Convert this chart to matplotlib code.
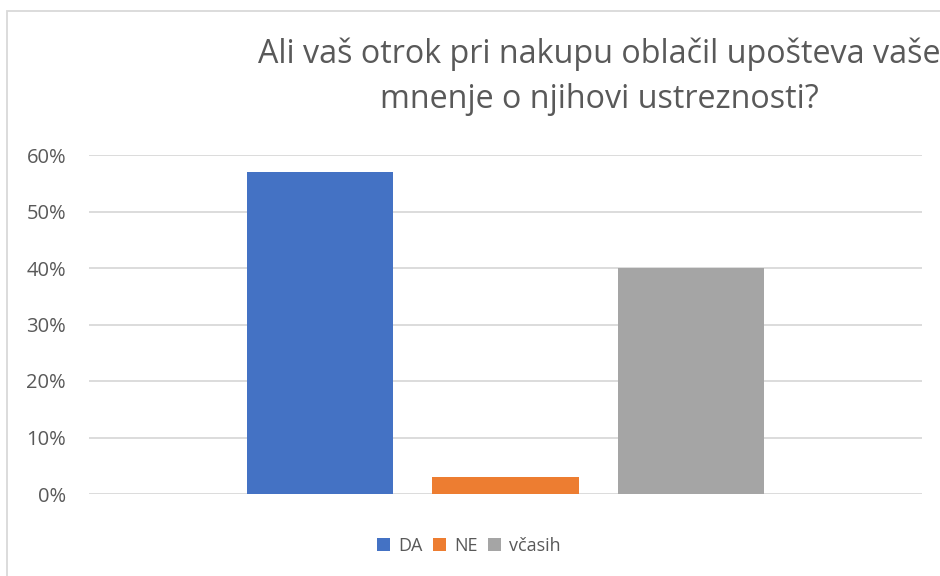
import matplotlib
matplotlib.use("Agg")
import matplotlib.pyplot as plt
from matplotlib.patches import Rectangle
from matplotlib.ticker import FuncFormatter

title_lines = ["Ali vaš otrok pri nakupu oblačil upošteva vaše",
               "mnenje o njihovi ustreznosti?"]
series = ["DA", "NE", "včasih"]
values = [0.57, 0.03, 0.40]
colors = ["#4472C4", "#ED7D31", "#A5A5A5"]
yticks = [0, 0.1, 0.2, 0.3, 0.4, 0.5, 0.6]

plt.rcParams['font.family'] = ['Open Sans', 'DejaVu Sans']
txt = "#595959"

fig = plt.figure(figsize=(9.4, 5.76), dpi=100)
fig.patches.append(Rectangle((7/940, -0.1), 2, 1.1 - 11/576, transform=fig.transFigure,
                             fill=False, edgecolor="#D9D9D9", linewidth=1.3))
ax = fig.add_axes([89/940, (576-494)/576, (922-89)/940, (494-155)/576])

positions = [-1, 0, 1]
for p, v, c, s in zip(positions, values, colors, series):
    ax.bar(p, v, width=146/185, color=c, label=s, zorder=3)

ax.set_xlim(-2.251, 2.251)
ax.set_ylim(0, 0.6)
ax.set_yticks(yticks)
ax.yaxis.set_major_formatter(FuncFormatter(lambda y, _: f"{round(y*100)}%"))
ax.grid(axis="y", color="#D9D9D9", linewidth=1.3, zorder=0)
ax.set_xticks([])
for sp in ax.spines.values():
    sp.set_visible(False)
ax.tick_params(axis="y", length=0, pad=16.5, labelsize=14.5, labelcolor=txt)

for line, yb in zip(title_lines, [63, 108]):
    fig.text(599/940, 1 - yb/576, line, ha="center", va="baseline", fontsize=23.2,
             color=txt)

leg = fig.legend(loc="center", bbox_to_anchor=(469/940, 1 - 546/576), ncol=3, frameon=False,
                 fontsize=13, handlelength=0.7, handleheight=0.7, handletextpad=0.45,
                 columnspacing=0.6, labelcolor=txt)

fig.savefig("out.png", dpi=100)
